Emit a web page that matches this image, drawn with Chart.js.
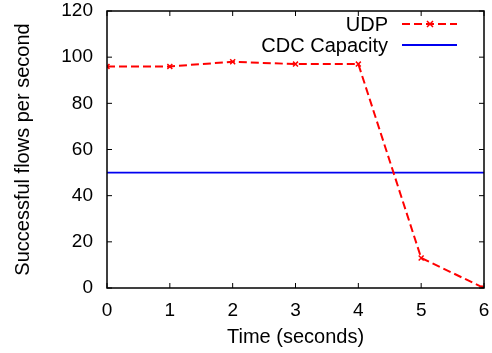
<!DOCTYPE html>
<html>
<head>
<meta charset="utf-8">
<script src="https://cdn.jsdelivr.net/npm/chart.js@4"></script>
<style>
  html, body { margin: 0; padding: 0; background: #fff; }
  #wrap { width: 492px; height: 353px; }
</style>
</head>
<body>
<div id="wrap"><canvas id="lineCanvas" width="492" height="353"></canvas></div>
<script>
const times = [0, 1, 2, 3, 4, 5, 6]; // x
const udpFlows = [96, 96, 98, 97, 97, 13, 0]; // y
const cdcCapacity = [50, 50, 50, 50, 50, 50, 50];
const yTicks = [0, 20, 40, 60, 80, 100, 120];

const FONT = "'Liberation Sans', Arial, sans-serif";

// gnuplot style frame : box + ticks pointing inside, mirrored
const framePlugin = {
  id: 'frame',
  afterDraw(chart) {
    const ctx = chart.ctx;
    const a = chart.chartArea;
    const xs = chart.scales.x, ys = chart.scales.y;
    ctx.save();
    ctx.strokeStyle = '#000';
    ctx.lineWidth = 1.5;
    ctx.strokeRect(a.left, a.top, a.right - a.left, a.bottom - a.top);
    ctx.lineWidth = 1;
    const t = 5;
    ctx.beginPath();
    times.forEach(v => {
      const px = xs.getPixelForValue(v);
      ctx.moveTo(px, a.bottom); ctx.lineTo(px, a.bottom - t);
      ctx.moveTo(px, a.top); ctx.lineTo(px, a.top + t);
    });
    yTicks.forEach(v => {
      const py = ys.getPixelForValue(v);
      ctx.moveTo(a.left, py); ctx.lineTo(a.left + t, py);
      ctx.moveTo(a.right, py); ctx.lineTo(a.right - t, py);
    });
    ctx.stroke();
    ctx.restore();
  }
};

// legend in the top right corner, text then line sample
const keyPlugin = {
  id: 'key',
  afterDraw(chart) {
    const ctx = chart.ctx;
    ctx.save();
    ctx.font = '20px ' + FONT;
    ctx.textAlign = 'right';
    ctx.textBaseline = 'middle';
    chart.data.datasets.forEach((ds, i) => {
      const y = 24 + i * 21;
      const x1 = 402, x2 = 457;
      ctx.fillStyle = '#000';
      ctx.fillText(ds.label, 388, y + 1);
      ctx.strokeStyle = ds.borderColor;
      ctx.lineWidth = ds.borderWidth;
      ctx.setLineDash(ds.borderDash || []);
      ctx.beginPath();
      ctx.moveTo(x1, y); ctx.lineTo(x2, y);
      ctx.stroke();
      ctx.setLineDash([]);
      if (ds.pointRadius > 0) {
        const m = 430, r = 3;
        ctx.lineWidth = 1.5;
        ctx.beginPath();
        ctx.moveTo(m - r, y - r); ctx.lineTo(m + r, y + r);
        ctx.moveTo(m - r, y + r); ctx.lineTo(m + r, y - r);
        ctx.stroke();
      }
    });
    ctx.restore();
  }
};

const lineChart = new Chart(document.getElementById('lineCanvas'), {
  type: 'line',
  data: {
    datasets: [{
      label: 'UDP',
      data: times.map((t, i) => ({ x: t, y: udpFlows[i] })),
      borderColor: '#ff0000',
      borderWidth: 2,
      borderDash: [8, 4],
      pointStyle: 'crossRot',
      pointRadius: 3.5,
      pointBorderWidth: 1.5,
      pointBorderColor: '#ff0000',
      tension: 0
    }, {
      label: 'CDC Capacity',
      data: times.map((t, i) => ({ x: t, y: cdcCapacity[i] })),
      borderColor: '#0000f0',
      borderWidth: 1.8,
      pointRadius: 0,
      tension: 0
    }]
  },
  options: {
    responsive: false,
    animation: false,
    layout: { padding: { top: 11, right: 8, left: 0, bottom: 0 } },
    plugins: {
      legend: { display: false },
      tooltip: { enabled: false }
    },
    scales: {
      x: {
        type: 'linear',
        min: 0,
        max: 6,
        afterFit(s) { s.height = 65; s.paddingLeft = 0; s.paddingRight = 0; },
        afterBuildTicks(s) { s.ticks = times.map(v => ({ value: v })); },
        grid: { display: false, drawTicks: false },
        border: { display: false },
        ticks: { color: '#000', padding: 11, maxRotation: 0, font: { size: 19, family: FONT } },
        title: {
          display: true,
          text: 'Time (seconds)',
          color: '#000',
          padding: { top: 4, bottom: 4 },
          font: { size: 20, family: FONT }
        }
      },
      y: {
        min: 0,
        max: 120,
        afterFit(s) { s.width = 107; s.paddingTop = 0; s.paddingBottom = 0; },
        afterBuildTicks(s) { s.ticks = yTicks.map(v => ({ value: v })); },
        grid: { display: false, drawTicks: false },
        border: { display: false },
        ticks: { color: '#000', padding: 14, font: { size: 19, family: FONT } },
        title: {
          display: true,
          text: 'Successful flows per second',
          color: '#000',
          padding: { top: 11, bottom: 4 },
          font: { size: 20, family: FONT }
        }
      }
    }
  },
  plugins: [framePlugin, keyPlugin]
});
</script>
</body>
</html>
